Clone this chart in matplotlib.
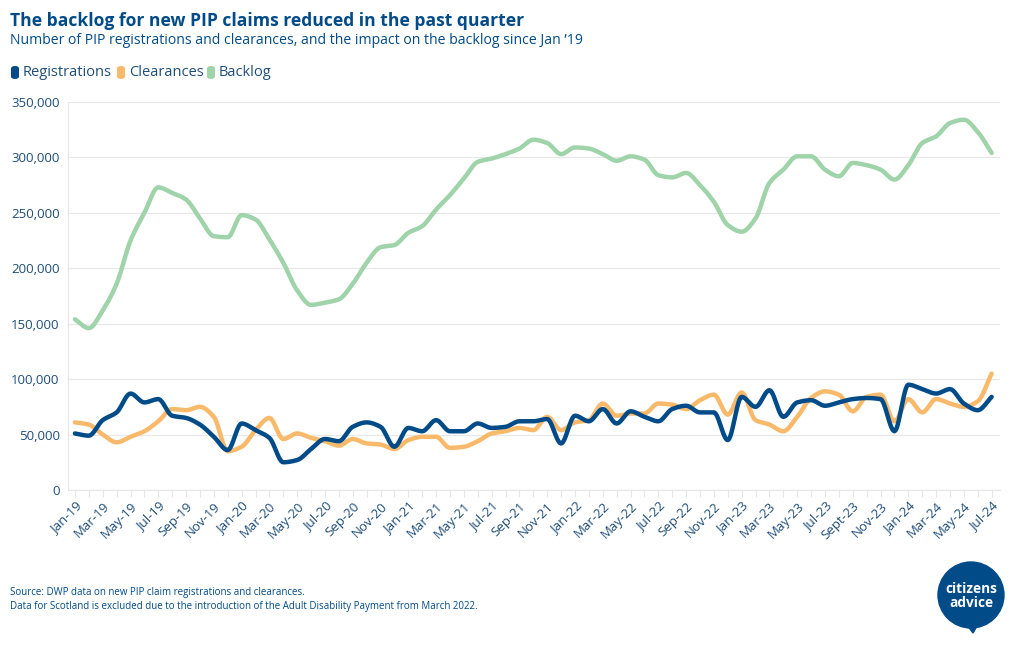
import numpy as np
import matplotlib
matplotlib.use("Agg")
import matplotlib.pyplot as plt
from matplotlib.patches import FancyBboxPatch, Circle, Polygon
from matplotlib.ticker import FuncFormatter, MultipleLocator

plt.rcParams['font.family'] = ['Open Sans', 'DejaVu Sans']

# ---------------- data (thousands) ----------------
months = ["Jan-19", "Feb-19", "Mar-19", "Apr-19", "May-19", "Jun-19", "Jul-19", "Aug-19", "Sep-19", "Oct-19", "Nov-19", "Dec-19",
          "Jan-20", "Feb-20", "Mar-20", "Apr-20", "May-20", "Jun-20", "Jul-20", "Aug-20", "Sep-20", "Oct-20", "Nov-20", "Dec-20",
          "Jan-21", "Feb-21", "Mar-21", "Apr-21", "May-21", "Jun-21", "Jul-21", "Aug-21", "Sep-21", "Oct-21", "Nov-21", "Dec-21",
          "Jan-22", "Feb-22", "Mar-22", "Apr-22", "May-22", "Jun-22", "Jul-22", "Aug-22", "Sep-22", "Oct-22", "Nov-22", "Dec-22",
          "Jan-23", "Feb-23", "Mar-23", "Apr-23", "May-23", "Jun-23", "Jul-23", "Aug-23", "Sept-23", "Oct-23", "Nov-23", "Dec-23",
          "Jan-24", "Feb-24", "Mar-24", "Apr-24", "May-24", "Jun-24", "Jul-24"]

registrations = [51, 49, 63, 70, 87, 79, 82, 67, 65, 59, 48, 36,
                 60, 54, 47, 25, 27, 37, 46, 44, 57, 61, 57, 39,
                 56, 53, 63, 53, 53, 60, 56, 57, 62, 62, 64, 42,
                 67, 62, 73, 60, 71, 66, 62, 73, 76, 70, 70, 45,
                 84, 75, 90, 66, 79, 81, 76, 79, 82, 83, 82, 53,
                 95, 91, 87, 91, 78, 72, 84]

clearances = [61, 59, 50, 43, 48, 53, 62, 73, 72, 75, 66, 35,
              39, 54, 65, 46, 51, 47, 44, 40, 46, 42, 41, 37,
              45, 48, 48, 38, 39, 44, 51, 53, 56, 54, 66, 54,
              61, 63, 78, 67, 69, 69, 78, 77, 73, 81, 86, 68,
              88, 63, 59, 53, 66, 83, 89, 86, 71, 84, 86, 62,
              82, 70, 82, 78, 75, 80, 105]

backlog = [154, 146, 162, 186, 225, 250, 273, 268, 262, 245, 229, 228,
           248, 244, 226, 205, 180, 167, 169, 172, 186, 205, 219, 221,
           232, 238, 253, 266, 281, 296, 299, 303, 308, 316, 313, 303,
           309, 308, 303, 297, 301, 298, 284, 282, 286, 275, 260, 239,
           233, 245, 277, 289, 301, 301, 289, 283, 295, 293, 289, 280,
           293, 313, 319, 331, 334, 323, 304]

series_names = ["Registrations", "Clearances", "Backlog"]
colors = ["#004b88", "#f9b96b", "#9fd3a9"]

title = "The backlog for new PIP claims reduced in the past quarter"
subtitle = "Number of PIP registrations and clearances, and the impact on the backlog since Jan \u201919"
notes = ["Source: DWP data on new PIP claim registrations and clearances.",
         "Data for Scotland is excluded due to the introduction of the Adult Disability Payment from March 2022."]

TXT = "#1f4e79"
DARK = "#004b88"


def monotone_curve(x, y, n=12):
    """Render helper: monotone cubic (d3 curveMonotoneX style) through the points."""
    x = np.asarray(x, float)
    y = np.asarray(y, float)
    h = np.diff(x)
    d = np.diff(y) / h
    m = np.zeros_like(y)
    m[0], m[-1] = d[0], d[-1]
    for k in range(1, len(y) - 1):
        if d[k - 1] * d[k] <= 0:
            m[k] = 0.0
        else:
            w1 = 2 * h[k] + h[k - 1]
            w2 = h[k] + 2 * h[k - 1]
            m[k] = (w1 + w2) / (w1 / d[k - 1] + w2 / d[k])
    xs, ys = [], []
    for k in range(len(x) - 1):
        t = np.linspace(0, 1, n, endpoint=False)
        h00 = 2 * t**3 - 3 * t**2 + 1
        h10 = t**3 - 2 * t**2 + t
        h01 = -2 * t**3 + 3 * t**2
        h11 = t**3 - t**2
        xs.append(x[k] + t * h[k])
        ys.append(h00 * y[k] + h10 * h[k] * m[k] + h01 * y[k + 1] + h11 * h[k] * m[k + 1])
    xs.append([x[-1]])
    ys.append([y[-1]])
    return np.concatenate(xs), np.concatenate(ys)


fig = plt.figure(figsize=(10.2, 6.5), dpi=100)
ax = fig.add_axes([68 / 1020, 1 - 490 / 650, (1000 - 68) / 1020, (490 - 102) / 650])

x = np.arange(len(months))
for vals, c, z in zip([backlog, clearances, registrations], [colors[2], colors[1], colors[0]], [2, 3, 4]):
    xs, ys = monotone_curve(x, np.array(vals) * 1000)
    ax.plot(xs, ys, color=c, lw=3.2, solid_capstyle='round', solid_joinstyle='round', zorder=z)

ax.set_xlim(-0.5, 66.6)
ax.set_ylim(0, 350000)
ax.yaxis.set_major_locator(MultipleLocator(50000))
ax.yaxis.set_major_formatter(FuncFormatter(lambda v, p: f"{int(v):,}"))
ax.grid(axis='y', color='#e8e8e8', lw=0.9)
ax.set_axisbelow(True)
for s in ['top', 'right']:
    ax.spines[s].set_visible(False)
ax.spines['left'].set_color('#e6e6e6')
ax.spines['bottom'].set_color('#e6e6e6')
ax.tick_params(axis='y', length=0, labelsize=9.5, labelcolor=TXT, pad=6)

ax.set_xticks(x)
ax.set_xticklabels([m if i % 2 == 0 else "" for i, m in enumerate(months)],
                   rotation=45, ha='right', rotation_mode='anchor')
ax.tick_params(axis='x', length=5, color='#e6e6e6', labelsize=9.5, labelcolor=TXT, pad=2)

# titles
fig.text(10 / 1020, 1 - 21 / 650, title, fontsize=12.6, fontweight='bold', color=DARK, va='center', ha='left')
fig.text(10 / 1020, 1 - 41 / 650, subtitle, fontsize=10.05, color=DARK, va='center', ha='left')

# legend
leg_x = [11, 117, 207]
for lx, name, c in zip(leg_x, series_names, colors):
    fig.patches.append(FancyBboxPatch((lx / 1020, 1 - 79 / 650), 8 / 1020, 13 / 650,
                                      boxstyle="round,pad=0,rounding_size=0.004",
                                      transform=fig.transFigure, facecolor=c, edgecolor='none'))
    fig.text((lx + 12) / 1020, 1 - 72 / 650, name, fontsize=10.5, color=TXT, va='center', ha='left')

# notes
fig.text(10 / 1020, 1 - 592 / 650, notes[0], fontsize=7, color=DARK, va='center', ha='left')
fig.text(10 / 1020, 1 - 606 / 650, notes[1], fontsize=7, color=DARK, va='center', ha='left')

# logo
lax = fig.add_axes([930 / 1020, 1 - 640 / 650, 85 / 1020, 85 / 650])
lax.set_xlim(0, 85)
lax.set_ylim(85, 0)
lax.set_aspect('equal')
lax.axis('off')
lax.add_patch(Circle((41, 40), 33, color=DARK))
lax.add_patch(Polygon([[34, 66], [50, 66], [43, 78]], closed=True, color=DARK))
lax.text(41, 34, "citizens", color='white', fontsize=9.8, fontweight='bold', ha='center', va='center')
lax.text(41, 48, "advice", color='white', fontsize=9.8, fontweight='bold', ha='center', va='center')

fig.savefig("out.png", dpi=100, facecolor='white')
